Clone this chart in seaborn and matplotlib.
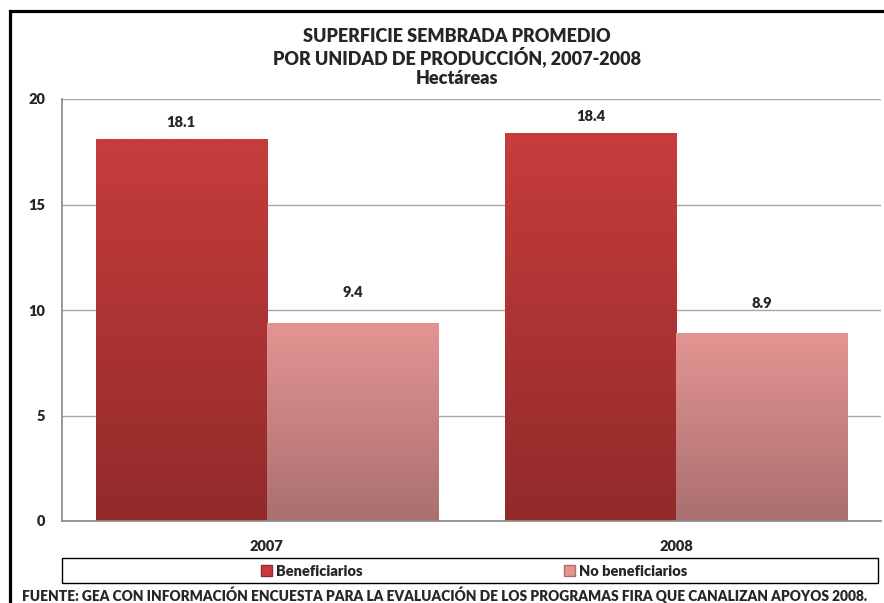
import numpy as np
import pandas as pd
import matplotlib
matplotlib.use("Agg")
import matplotlib.pyplot as plt
import seaborn as sns
from matplotlib.patches import Rectangle
from matplotlib.colors import LinearSegmentedColormap

# data
years = ["2007", "2008"]
groups = ["Beneficiarios", "No beneficiarios"]
beneficiarios = [18.1, 18.4]
no_beneficiarios = [9.4, 8.9]
yticks = [0, 5, 10, 15, 20]

df = pd.DataFrame({
    "year": years * 2,
    "grupo": [groups[0]] * 2 + [groups[1]] * 2,
    "valor": beneficiarios + no_beneficiarios,
})

sns.set_theme(style="white")
plt.rcParams["font.family"] = ["Lato", "DejaVu Sans"]
plt.rcParams["font.weight"] = "bold"

top_cols = {"Beneficiarios": "#c63d3c", "No beneficiarios": "#e39592"}
bot_cols = {"Beneficiarios": "#922a2a", "No beneficiarios": "#ab6f70"}

fig = plt.figure(figsize=(8.84, 6.03), dpi=100)
W, H = 884, 603
ax = fig.add_axes([62 / W, 1 - 521 / H, (881 - 62) / W, (521 - 99) / H])

sns.barplot(data=df, x="year", y="valor", hue="grupo", order=years,
            hue_order=groups, palette=top_cols, width=0.836, ax=ax,
            legend=False, saturation=1)

ax.set_yticks(yticks)
ax.set_yticklabels([str(t) for t in yticks], fontsize=10.5, fontweight="heavy")
ax.tick_params(axis="y", length=0, pad=12)
ax.tick_params(axis="x", length=0, pad=14, labelsize=10.5)
for lbl in ax.get_xticklabels():
    lbl.set_fontweight("heavy")
ax.set_xlabel("")
ax.set_ylabel("")
ax.yaxis.grid(True, color="#a6a6a6", linewidth=1)
ax.set_axisbelow(True)
for s in ["top", "right"]:
    ax.spines[s].set_visible(False)
ax.spines["bottom"].set_color("#8c8c8c")
ax.spines["left"].set_color("#8c8c8c")

# vertical gradient inside each bar
grad = np.linspace(0, 1, 256).reshape(-1, 1)
pads = [7, 17]
for i, cont in enumerate(ax.containers):
    g = groups[i]
    cmap = LinearSegmentedColormap.from_list(g, [bot_cols[g], top_cols[g]])
    for p in cont.patches:
        x0, y0 = p.get_x(), p.get_y()
        w, h = p.get_width(), p.get_height()
        im = ax.imshow(grad, extent=[x0, x0 + w, y0, y0 + h], origin="lower",
                       aspect="auto", cmap=cmap, zorder=p.get_zorder() + 0.1)
        im.set_clip_path(p)
        p.set_edgecolor("#7a2020" if i == 0 else "#a06868")
        p.set_linewidth(0.6)
    ax.bar_label(cont, fmt="%.1f", padding=pads[i], fontsize=10.5,
                 fontweight="heavy")
ax.set_xlim(-0.5, 1.5)
ax.set_ylim(0, 20)

# titles
for txt, y in [("SUPERFICIE SEMBRADA PROMEDIO", 36),
               ("POR UNIDAD DE PRODUCCIÓN, 2007-2008", 57),
               ("Hectáreas", 78)]:
    fig.text(457 / W, 1 - y / H, txt, ha="center", va="center",
             fontsize=13, fontweight="heavy")

# legend in a box under the axis
handles = [Rectangle((0, 0), 1, 1, facecolor=top_cols[g],
                     edgecolor=bot_cols[g]) for g in groups]
fig.legend(handles, groups, loc="center", ncol=2, frameon=False,
           bbox_to_anchor=(474 / W, 1 - 571 / H),
           prop={"size": 10.5, "weight": "heavy"},
           handlelength=0.75, handleheight=0.75, handletextpad=0.3,
           columnspacing=13.8)
fig.patches.append(Rectangle((62 / W, 1 - 583 / H), (878 - 62) / W, 25 / H,
                             transform=fig.transFigure, fill=False,
                             edgecolor="black", linewidth=1))

fig.text(22 / W, 1 - 595 / H,
         "FUENTE: GEA CON INFORMACIÓN ENCUESTA PARA LA EVALUACIÓN DE LOS "
         "PROGRAMAS FIRA QUE CANALIZAN APOYOS 2008.",
         ha="left", va="center", fontsize=9.9, fontweight="heavy")

# outer frame of the chart
fig.patches.append(Rectangle((10 / W, -0.1), 900 / W, 1.1 - 11 / H,
                             transform=fig.transFigure, fill=False,
                             edgecolor="black", linewidth=2.3))

fig.savefig("out.png", dpi=100, facecolor="white")
